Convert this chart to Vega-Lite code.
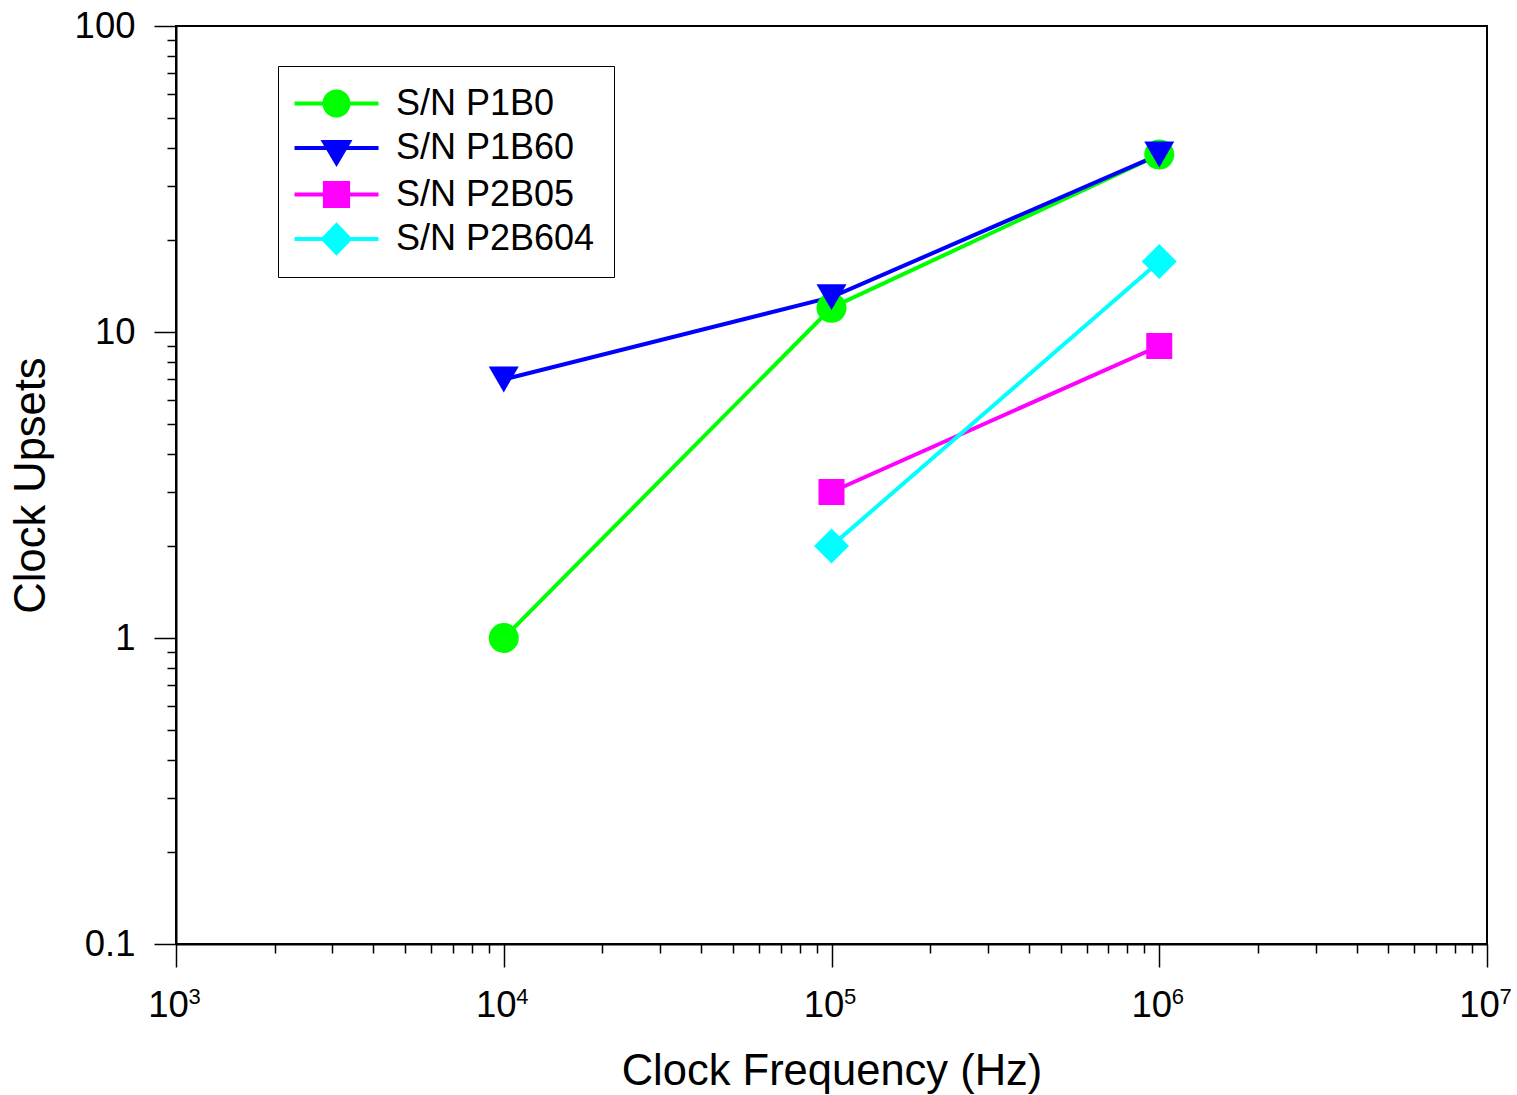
{
  "$schema": "https://vega.github.io/schema/vega-lite/v6.json",
  "width": 1311,
  "height": 918,
  "autosize": {"type": "none"},
  "padding": {"left": 176, "top": 26, "right": 30, "bottom": 151},
  "background": "white",
  "config": {
    "font": "Liberation Sans",
    "view": {"stroke": "black", "strokeWidth": 2},
    "axis": {
      "grid": false,
      "domainColor": "black",
      "domainWidth": 2,
      "tickColor": "black",
      "tickWidth": 1.5,
      "labelColor": "black",
      "titleColor": "black",
      "labelFont": "Liberation Sans",
      "titleFont": "Liberation Sans",
      "labelFontSize": 36.5,
      "titleFontSize": 43.5,
      "titleFontWeight": "normal",
      "labelOverlap": false,
      "labelFlush": false,
      "labelBound": false
    }
  },
  "data": {
    "values": [
      {"f": 10000, "u": 1, "s": "S/N P1B0"},
      {"f": 100000, "u": 12, "s": "S/N P1B0"},
      {"f": 1000000, "u": 38, "s": "S/N P1B0"},
      {"f": 10000, "u": 7, "s": "S/N P1B60"},
      {"f": 100000, "u": 13, "s": "S/N P1B60"},
      {"f": 1000000, "u": 38, "s": "S/N P1B60"},
      {"f": 100000, "u": 3, "s": "S/N P2B05"},
      {"f": 1000000, "u": 9, "s": "S/N P2B05"},
      {"f": 100000, "u": 2, "s": "S/N P2B604"},
      {"f": 1000000, "u": 17, "s": "S/N P2B604"}
    ]
  },
  "resolve": {"axis": {"x": "independent"}},
  "encoding": {
    "y": {
      "field": "u",
      "type": "quantitative",
      "scale": {"type": "log", "domain": [0.1, 100], "nice": false},
      "axis": {
        "title": "Clock Upsets",
        "values": [0.1, 0.2, 0.3, 0.4, 0.5, 0.6, 0.7, 0.8, 0.9, 1, 2, 3, 4, 5, 6, 7, 8, 9, 10, 20, 30, 40, 50, 60, 70, 80, 90, 100],
        "tickSize": {"condition": {"test": "abs(log(datum.value)/LN10-round(log(datum.value)/LN10))<0.001", "value": 22}, "value": 9},
        "labelExpr": "datum.value==0.1?'0.1':datum.value==1?'1':datum.value==10?'10':datum.value==100?'100':''",
        "labelPadding": 19,
        "titlePadding": 21
      }
    }
  },
  "layer": [
    {
      "mark": {"type": "line", "strokeWidth": 4},
      "encoding": {
        "x": {
          "field": "f",
          "type": "quantitative",
          "scale": {"type": "log", "domain": [1000, 10000000], "nice": false},
          "axis": {
            "orient": "bottom",
            "title": "Clock Frequency (Hz)",
            "values": [1000, 2000, 3000, 4000, 5000, 6000, 7000, 8000, 9000, 10000, 20000, 30000, 40000, 50000, 60000, 70000, 80000, 90000, 100000, 200000, 300000, 400000, 500000, 600000, 700000, 800000, 900000, 1000000, 2000000, 3000000, 4000000, 5000000, 6000000, 7000000, 8000000, 9000000, 10000000],
            "tickSize": {"condition": {"test": "abs(log(datum.value)/LN10-round(log(datum.value)/LN10))<0.001", "value": 23}, "value": 9},
            "labelExpr": "abs(log(datum.value)/LN10-round(log(datum.value)/LN10))<0.001?'10':''",
            "labelOffset": -8,
            "labelPadding": 20,
            "titlePadding": 27
          }
        },
        "color": {
          "field": "s",
          "type": "nominal",
          "scale": {"domain": ["S/N P1B0", "S/N P1B60", "S/N P2B05", "S/N P2B604"], "range": ["#00ff00", "#0000ff", "#ff00ff", "#00ffff"]}
        }
      }
    },
    {
      "mark": {"type": "point", "filled": true, "opacity": 1, "strokeWidth": 0},
      "encoding": {
        "x": {
          "field": "f",
          "type": "quantitative",
          "scale": {"type": "log", "domain": [1000, 10000000], "nice": false},
          "axis": {
            "orient": "bottom",
            "title": null,
            "domain": false,
            "tickSize": 0,
            "tickOpacity": 0,
            "values": [1000, 10000, 100000, 1000000, 10000000],
            "labelExpr": "format(round(log(datum.value)/LN10), 'd')",
            "labelFontSize": 22,
            "labelAlign": "left",
            "labelOffset": 12,
            "labelPadding": 42.5
          }
        },
        "color": {
          "field": "s",
          "type": "nominal",
          "scale": {"domain": ["S/N P1B0", "S/N P1B60", "S/N P2B05", "S/N P2B604"], "range": ["#00ff00", "#0000ff", "#ff00ff", "#00ffff"]},
          "legend": {
            "title": null,
            "orient": "none",
            "legendX": 102,
            "legendY": 40,
            "symbolSize": 784,
            "symbolStrokeWidth": 0,
            "symbolOpacity": 1,
            "symbolType": {"expr": "datum.value=='S/N P1B0'?'M-1.5,-0.14H4.5V0.14H-1.5Z M0.5,0A1,1 0 1,1 2.5,0A1,1 0 1,1 0.5,0Z':datum.value=='S/N P1B60'?'M-1.5,-0.14H4.5V0.14H-1.5Z M0.36,-0.57L2.64,-0.57L1.5,1.36Z':datum.value=='S/N P2B05'?'M-1.5,-0.14H4.5V0.14H-1.5Z M0.53,-0.97H2.47V0.97H0.53Z':'M-1.5,-0.14H4.5V0.14H-1.5Z M1.5,-1.2L2.65,0L1.5,1.2L0.35,0Z'"},
            "labelFontSize": 36,
            "labelFont": "Liberation Sans",
            "labelColor": "black",
            "labelLimit": 500,
            "labelOffset": 62.5,
            "rowPadding": 8.5,
            "padding": 19.5,
            "strokeColor": "black",
            "fillColor": "white",
            "encode": {
              "legend": {"strokeWidth": {"value": 1.5}}
            }
          }
        },
        "shape": {
          "field": "s",
          "type": "nominal",
          "scale": {"domain": ["S/N P2B604", "S/N P2B05", "S/N P1B60", "S/N P1B0"], "range": ["diamond", "square", "triangle-down", "circle"]},
          "legend": null
        },
        "size": {
          "field": "s",
          "type": "nominal",
          "scale": {"type": "ordinal", "domain": ["S/N P1B60", "S/N P1B0", "S/N P2B604", "S/N P2B05"], "range": [900, 900, 1225, 676]},
          "legend": null
        }
      }
    }
  ]
}
